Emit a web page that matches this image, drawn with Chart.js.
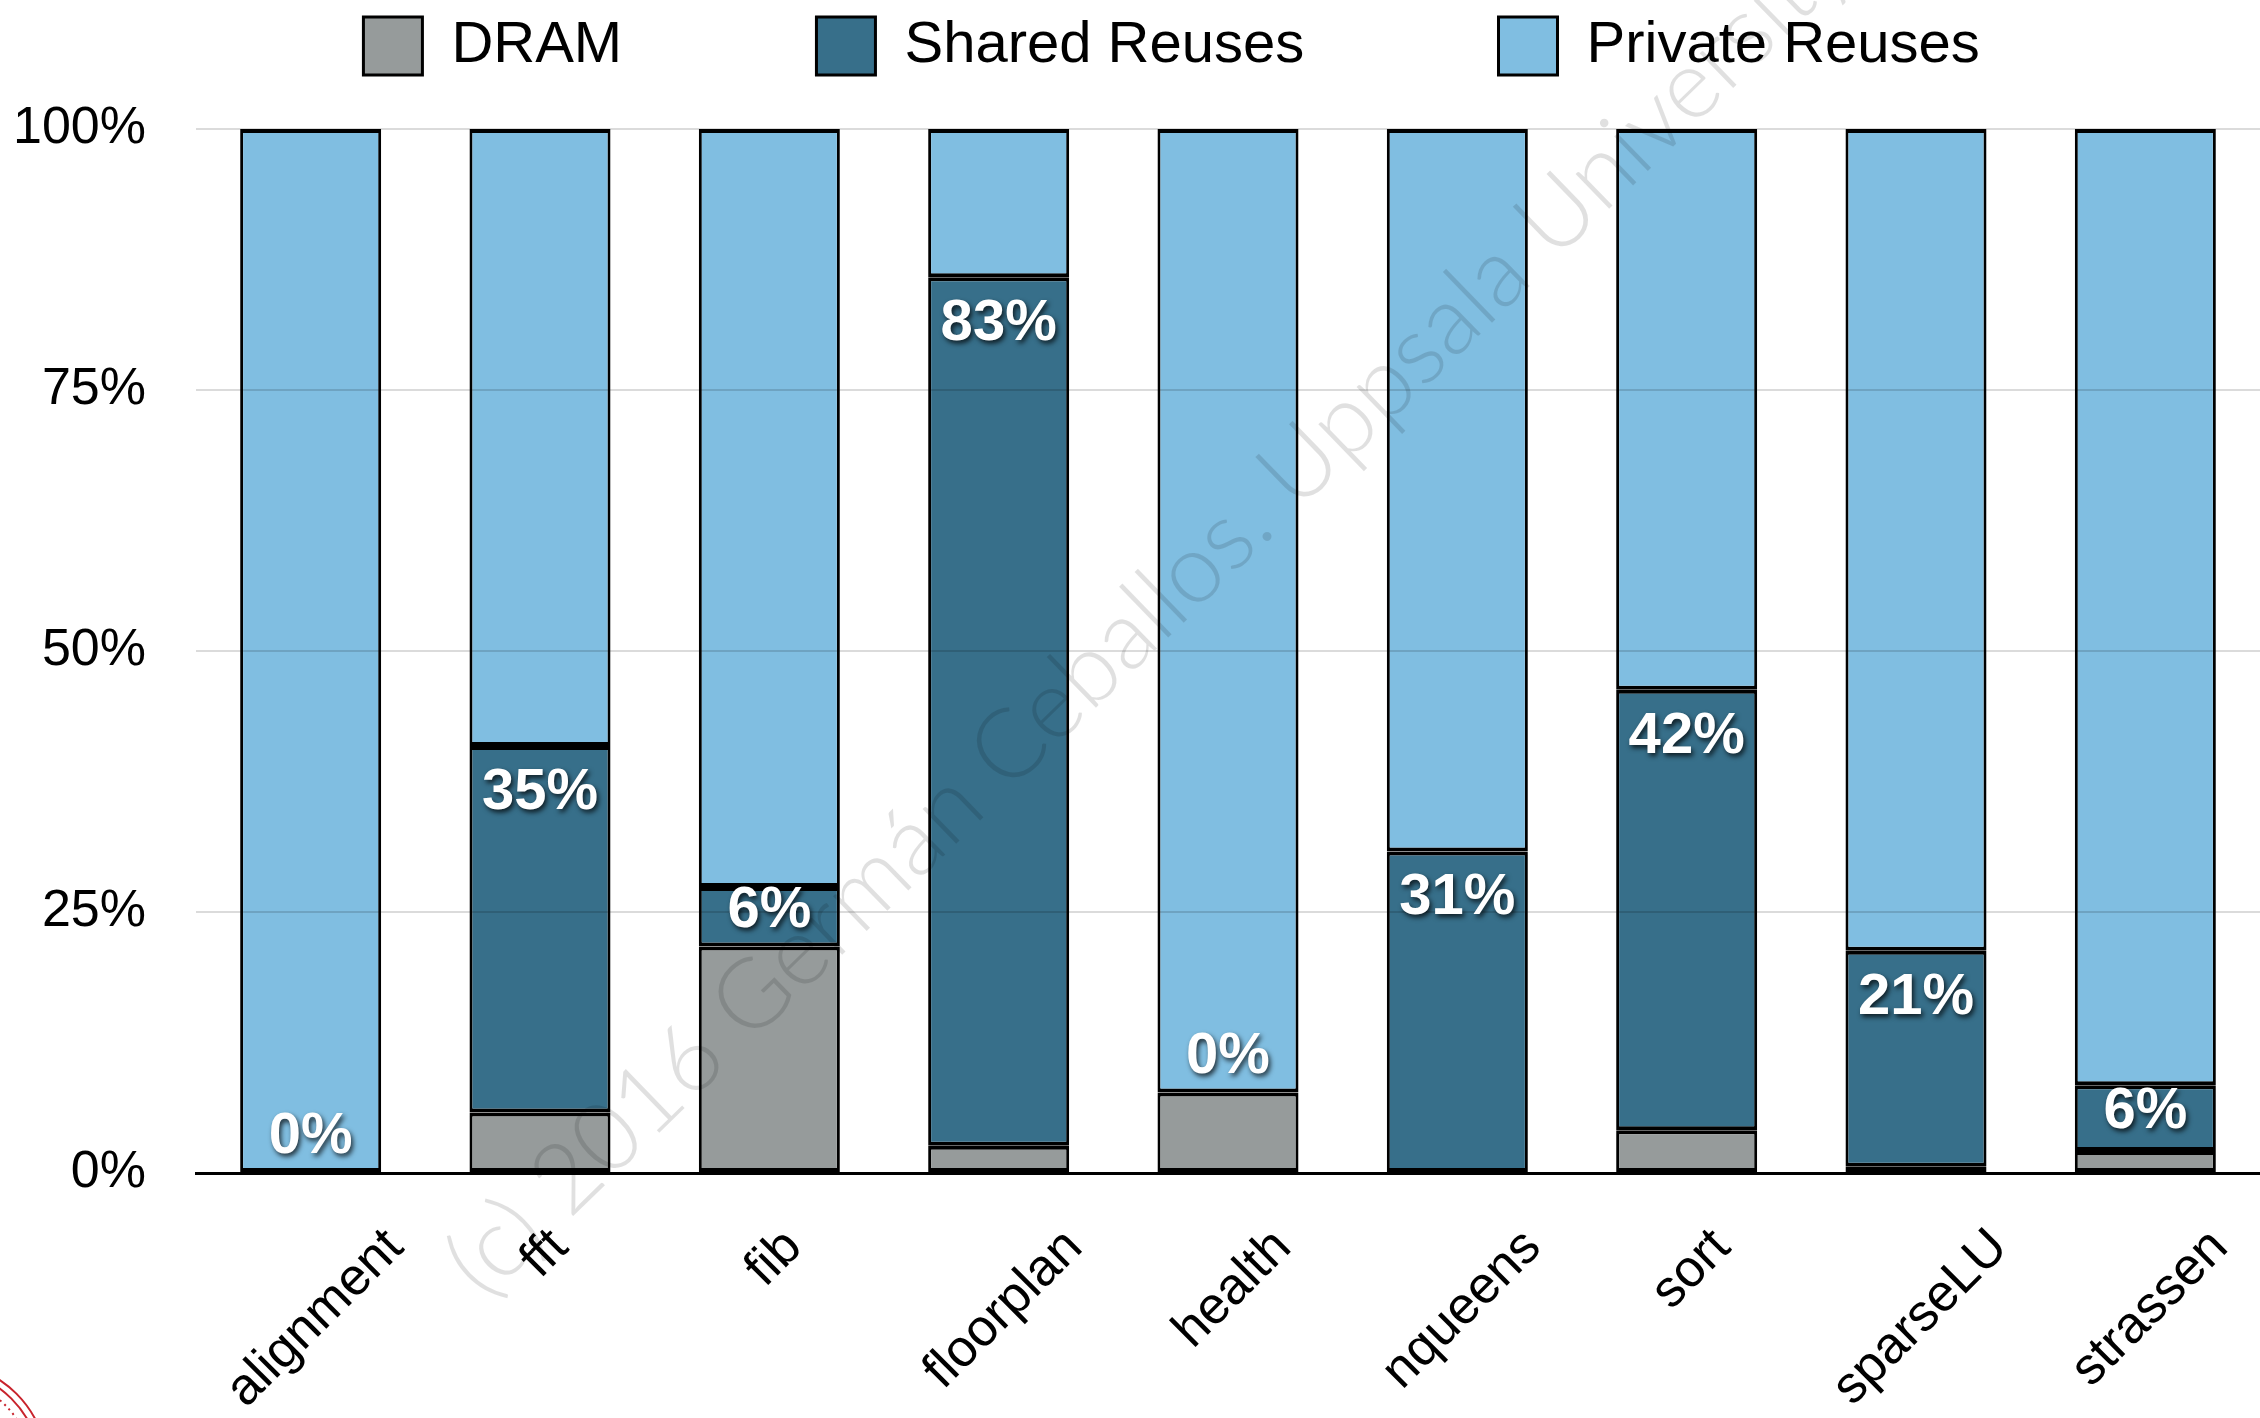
<!DOCTYPE html>
<html><head><meta charset="utf-8">
<script src="https://cdn.jsdelivr.net/npm/chart.js@4.4.1/dist/chart.umd.min.js"></script>
<style>html,body{margin:0;padding:0;background:#fff;overflow:hidden}#wrap{width:2260px;height:1418px;position:relative}</style>
</head><body><div id="wrap"><canvas id="c"></canvas></div>
<script>
const categories = ['alignment','fft','fib','floorplan','health','nqueens','sort','sparseLU','strassen'];
const dramValues = [0, 5.8, 21.7, 2.6, 7.7, 0, 4.1, 0.6, 2.1];
const sharedValues = [0, 35.1, 5.7, 83.2, 0, 30.8, 42.2, 20.7, 6.3];
const privateValues = [100, 59.1, 72.6, 14.2, 92.3, 69.2, 53.7, 78.7, 91.6];
const yTicks = [0, 25, 50, 75, 100];
const seriesNames = ['DRAM', 'Shared Reuses', 'Private Reuses'];
const seriesColors = ['#969b9b', '#376f8a', '#80bee1'];
const watermarkText = '(c) 2016 Germán Ceballos. Uppsala University';

const FONT = "'Liberation Sans', Arial, Helvetica, sans-serif";

const shareLabels = {
  id: 'shareLabels',
  afterDraw(chart) {
    const meta = chart.getDatasetMeta(1);
    const ctx = chart.ctx;
    ctx.save();
    ctx.font = `bold 58px ${FONT}`;
    ctx.textAlign = 'center';
    ctx.textBaseline = 'middle';
    ctx.fillStyle = '#fff';
    ctx.shadowColor = 'rgba(0,0,0,0.75)';
    ctx.shadowBlur = 5;
    ctx.shadowOffsetX = 2;
    ctx.shadowOffsetY = 3;
    meta.data.forEach((bar, i) => {
      const top = bar.y, base = bar.base, h = base - top;
      const cy = h > 40 ? top + Math.min(47, h * 0.4) : top - 36;
      ctx.fillText(Math.round(sharedValues[i]) + '%', bar.x, cy);
    });
    ctx.restore();
  }
};

const xLabels = {
  id: 'xLabels',
  afterDraw(chart) {
    const sc = chart.scales.x, ctx = chart.ctx;
    const topY = chart.chartArea.bottom + 50;
    ctx.save();
    ctx.font = `52px ${FONT}`;
    ctx.fillStyle = '#000';
    ctx.textAlign = 'center';
    ctx.textBaseline = 'middle';
    categories.forEach((c, i) => {
      const x = sc.getPixelForTick(i) + 5;
      const w = ctx.measureText(c).width;
      const cy = topY + (w / 2 + 23) * Math.SQRT1_2;
      ctx.save();
      ctx.translate(x, cy);
      ctx.rotate(-Math.PI / 4);
      ctx.fillText(c, 0, 0);
      ctx.restore();
    });
    ctx.restore();
  }
};

const watermark = {
  id: 'watermark',
  afterDraw(chart) {
    const ctx = chart.ctx;
    ctx.save();
    ctx.translate(485, 1302);
    ctx.rotate(-44.2 * Math.PI / 180);
    ctx.font = `300 97px Lato, ${FONT}`;
    ctx.fillStyle = 'rgba(0,0,0,0.12)';
    ctx.textBaseline = 'alphabetic';
    ctx.fillText(watermarkText, 0, 0);
    ctx.restore();
    // seal in the corner
    ctx.save();
    ctx.strokeStyle = '#c8232c';
    ctx.lineWidth = 2;
    [108, 101].forEach(r => { ctx.beginPath(); ctx.arc(-60, 1470, r, 0, Math.PI * 2); ctx.stroke(); });
    ctx.setLineDash([2, 4]);
    ctx.beginPath(); ctx.arc(-60, 1470, 92, 0, Math.PI * 2); ctx.stroke();
    ctx.restore();
  }
};

const valueSets = [dramValues, sharedValues, privateValues];
const datasets = seriesNames.map((name, i) => ({
  label: name,
  data: valueSets[i],
  backgroundColor: seriesColors[i],
  borderColor: '#000',
  borderWidth: {top: 4, bottom: 4, left: 3, right: 3},
  borderSkipped: false,
  categoryPercentage: 1,
  barPercentage: 0.615
}));

new Chart(document.getElementById('c'), {
  type: 'bar',
  data: {labels: categories, datasets},
  options: {
    responsive: true,
    maintainAspectRatio: false,
    animation: false,
    layout: {padding: {left: 0, right: 0, top: 0, bottom: 0}},
    plugins: {
      legend: {
        position: 'top',
        align: 'center',
        fullSize: false,
        labels: {
          boxWidth: 59, boxHeight: 58, padding: 17, color: '#000',
          font: {family: FONT, size: 58},
          generateLabels(chart) {
            const items = Chart.defaults.plugins.legend.labels.generateLabels(chart);
            items.forEach((it, i) => {
              it.text = it.text + ' '.repeat(i < items.length - 1 ? 11 : 7);
              it.lineWidth = 3;
            });
            return items;
          }
        }
      },
      title: {display: true, text: '', weight: 500, font: {size: 10}, padding: {top: 0, bottom: 32}},
      tooltip: {enabled: false}
    },
    scales: {
      x: {
        stacked: true,
        grid: {display: false, drawTicks: false},
        border: {display: true, color: '#000', width: 3, z: 1},
        ticks: {display: false},
        afterFit(s) { s.height = 245; }
      },
      y: {
        stacked: true,
        min: 0, max: 100,
        afterBuildTicks(s) { s.ticks = yTicks.map(v => ({value: v})); },
        grid: {color: 'rgba(0,0,0,0.14)', lineWidth: 2, drawTicks: false, z: 1},
        border: {display: false},
        ticks: {padding: 50, color: '#000', font: {family: FONT, size: 52}, callback: v => v + '%'},
        afterFit(s) { s.width = 196; }
      }
    }
  },
  plugins: [shareLabels, xLabels, watermark]
});
</script>
</body></html>
